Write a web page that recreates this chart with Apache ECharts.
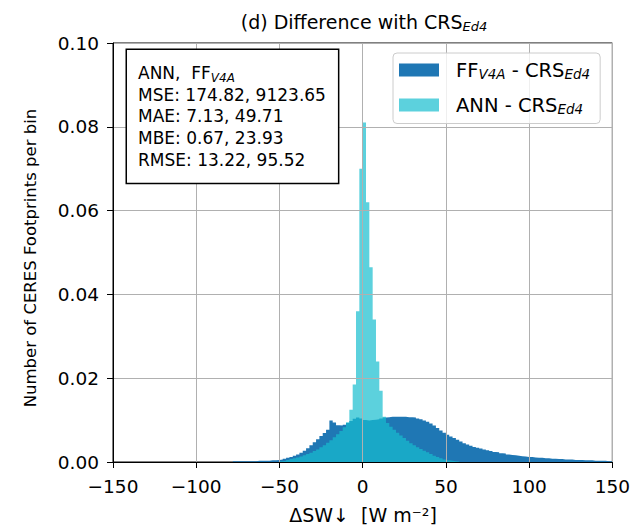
<!DOCTYPE html>
<html>
<head>
<meta charset="utf-8">
<script src="https://cdn.jsdelivr.net/npm/echarts@6/dist/echarts.min.js"></script>
<style>
html,body{margin:0;padding:0;background:#fff;}
#chart{width:633px;height:528px;}
</style>
</head>
<body>
<div id="chart"></div>
<script>
// ---- Data (histogram bins, width 2 W m^-2, values given per bin left edge) ----
const binWidth = 2;
const xTicks = [-150, -100, -50, 0, 50, 100, 150];
const yTicks = [0, 0.02, 0.04, 0.06, 0.08, 0.10];

// FF_V4A - CRS_Ed4 : first bin starts at -78
const ffStart = -78;
const ffValues = [
  0.0002, 0.0002, 0.0002, 0.0002, 0.0002, 0.0002, 0.0002, 0.0003, 0.0003, 0.0003, // -78 .. -60
  0.0003, 0.0004, 0.0004, 0.0005, 0.0006, 0.0008, 0.0010, 0.0012, 0.0015, 0.0018, // -58 .. -40
  0.0022, 0.0027, 0.0033, 0.0040, 0.0047, 0.0054, 0.0062, 0.0069, 0.0077, 0.0099, // -38 .. -20
  0.0094, 0.0088, 0.0087, 0.0089, 0.0093, 0.0098, 0.0103, 0.0106, 0.0104,         // -18 .. -2
  0.0100, 0.0099, 0.0100, 0.0101, 0.0102, 0.0104, 0.0106, 0.0107, 0.0108, 0.0108, // 0 .. 18
  0.0108, 0.0108, 0.0108, 0.0107, 0.0107, 0.0106, 0.0104, 0.0102, 0.0099, 0.0096, // 20 .. 38
  0.0092, 0.0087, 0.0081, 0.0075, 0.0070, 0.0065, 0.0061, 0.0057, 0.0053, 0.0049, // 40 .. 58
  0.0045, 0.0042, 0.0039, 0.0036, 0.0034, 0.0032, 0.0030, 0.0028, 0.0026, 0.0024, // 60 .. 78
  0.0023, 0.0021, 0.0020, 0.0018, 0.0017, 0.0016, 0.0015, 0.0014, 0.0013, 0.0012, // 80 .. 98
  0.0012, 0.0011, 0.0010, 0.0010, 0.0009, 0.0009, 0.0008, 0.0008, 0.0007, 0.0007, // 100 .. 118
  0.0006, 0.0006, 0.0006, 0.0005, 0.0005, 0.0005, 0.0004, 0.0004, 0.0004, 0.0003, // 120 .. 138
  0.0003, 0.0003, 0.0003, 0.0002, 0.0002                                          // 140 .. 148
];

// ANN - CRS_Ed4 : first bin starts at -50
const annStart = -50;
const annValues = [
  0.0002, 0.0003, 0.0005, 0.0007, 0.0009, 0.0011, 0.0013, 0.0016, 0.0019, 0.0022, // -50 .. -32
  0.0026, 0.0030, 0.0035, 0.0040, 0.0046, 0.0052, 0.0059, 0.0066, 0.0074, 0.0083, // -30 .. -12
  0.0095, 0.0125, 0.0185, 0.0360, 0.0700,                                         // -10 .. -2
  0.0810, 0.0620, 0.0465, 0.0340, 0.0240, 0.0170, 0.0108, 0.0093, 0.0084, 0.0077, // 0 .. 18
  0.0070, 0.0063, 0.0057, 0.0051, 0.0045, 0.0040, 0.0035, 0.0031, 0.0027, 0.0023, // 20 .. 38
  0.0019, 0.0015, 0.0012, 0.0009, 0.0006, 0.0004, 0.0003, 0.0002, 0.0001          // 40 .. 56
];

const statsLines = [
  ['ANN,  FF', 'V4A'],
  ['MSE: 174.82, 9123.65'],
  ['MAE: 7.13, 49.71'],
  ['MBE: 0.67, 23.93'],
  ['RMSE: 13.22, 95.52']
];

// ---- Build step (histogram) series data ----
function toSteps(start, vals) {
  const pts = vals.map((v, i) => [start + i * binWidth, v]);
  pts.push([start + vals.length * binWidth, vals[vals.length - 1]]);
  return pts;
}

const FONT = 'DejaVu Sans';
const FS = 17;      // stats box text
const TFS = 18.5;   // tick labels
const LFS = 19.5;   // legend
const XFS = 19;     // x axis title
const YFS = 16.5;   // y axis title

const chart = echarts.init(document.getElementById('chart'), null, { renderer: 'svg' });

const statsText = statsLines.map(l => '{n|' + l[0] + '}' + (l[1] ? '{s|' + l[1] + '}' : '')).join('\n');

const option = {
  animation: false,
  backgroundColor: '#fff',
  textStyle: { fontFamily: FONT },
  grid: { left: 113, right: 20, top: 43, bottom: 66, show: true, borderColor: '#000', borderWidth: 1, backgroundColor: 'transparent' },
  xAxis: {
    type: 'value', min: -150, max: 150, interval: 50, z: 10,
    axisLine: { show: true, onZero: false, lineStyle: { color: '#000', width: 1 } },
    axisTick: { show: true, inside: false, length: 6, lineStyle: { color: '#000' } },
    axisLabel: { color: '#000', fontSize: TFS, fontFamily: FONT, margin: 15,
      formatter: v => (v < 0 ? '\u2212' + Math.abs(v) : String(v)) },
    splitLine: { show: true, lineStyle: { color: '#b0b0b0', width: 1 } }
  },
  yAxis: {
    type: 'value', min: 0, max: 0.10, interval: 0.02, z: 10,
    axisLine: { show: true, onZero: false, lineStyle: { color: '#000', width: 1 } },
    axisTick: { show: true, inside: false, length: 6, lineStyle: { color: '#000' } },
    axisLabel: { color: '#000', fontSize: TFS, fontFamily: FONT, margin: 14,
      formatter: v => v.toFixed(2) },
    splitLine: { show: true, lineStyle: { color: '#b0b0b0', width: 1 } }
  },
  legend: {
    orient: 'vertical', left: 393, top: 53, z: 20,
    backgroundColor: 'rgba(255,255,255,0.8)', borderColor: '#cccccc', borderWidth: 1, borderRadius: 4,
    padding: [7, 10, 8, 6], itemWidth: 40, itemHeight: 13, itemGap: 14.5, icon: 'rect',
    data: [
      { name: 'FF', itemStyle: { color: '#1f77b4' } },
      { name: 'ANN', itemStyle: { color: 'rgba(23,190,207,0.7)' } }
    ],
    formatter: name => name === 'FF'
      ? '{n|FF}{s|V4A}{n| - CRS}{s|Ed4}'
      : '{n|ANN - CRS}{s|Ed4}',
    textStyle: {
      padding: [0, 0, 0, 12],
      rich: {
        n: { fontFamily: FONT, fontSize: LFS, lineHeight: 21, color: '#000' },
        s: { fontFamily: FONT, fontSize: 13.5, lineHeight: 13, fontStyle: 'italic', verticalAlign: 'bottom', color: '#000' }
      }
    }
  },
  series: [
    {
      name: 'FF', type: 'line', step: 'end', data: toSteps(ffStart, ffValues),
      symbol: 'none', showSymbol: false, z: 2,
      lineStyle: { width: 0, color: '#1f77b4' },
      itemStyle: { color: '#1f77b4' },
      areaStyle: { color: '#1f77b4', opacity: 1 }
    },
    {
      name: 'ANN', type: 'line', step: 'end', data: toSteps(annStart, annValues),
      symbol: 'none', showSymbol: false, z: 3,
      lineStyle: { width: 0, color: 'rgba(23,190,207,0.7)' },
      itemStyle: { color: 'rgba(23,190,207,0.7)' },
      areaStyle: { color: 'rgba(23,190,207,0.7)', opacity: 1 }
    }
  ],
  graphic: [
    {
      type: 'text', x: 364, y: 22, z: 100,
      style: {
        text: '{n|(d) Difference with CRS}{s|Ed4}',
        align: 'center', verticalAlign: 'middle', textAlign: 'center', textVerticalAlign: 'middle',
        rich: { n: { fontFamily: FONT, fontSize: 19, lineHeight: 22, fill: '#000' }, s: { fontFamily: FONT, fontSize: 13, lineHeight: 13, fontStyle: 'italic', verticalAlign: 'bottom', fill: '#000' } }
      }
    },
    {
      type: 'text', x: 30, y: 258, rotation: Math.PI / 2, z: 100,
      style: {
        text: 'Number of CERES Footprints per bin',
        font: YFS + 'px ' + FONT, fill: '#000',
        align: 'center', verticalAlign: 'middle', textAlign: 'center', textVerticalAlign: 'middle'
      }
    },
    {
      type: 'text', x: 363, y: 515, z: 100,
      style: {
        text: '\u0394SW\u2193  [W m\u207B\u00B2]',
        font: XFS + 'px ' + FONT, fill: '#000',
        align: 'center', verticalAlign: 'middle', textAlign: 'center', textVerticalAlign: 'middle'
      }
    },
    {
      type: 'text', x: 127, y: 50, z: 100,
      style: {
        text: statsText,
        backgroundColor: '#fff', borderColor: '#000', borderWidth: 1.5,
        padding: [12, 12, 12, 11],
        rich: {
          n: { fontFamily: FONT, fontSize: FS, lineHeight: 21.75, fill: '#000' },
          s: { fontFamily: FONT, fontSize: 12, lineHeight: 12, fontStyle: 'italic', verticalAlign: 'bottom', fill: '#000' }
        }
      }
    }
  ]
};
chart.setOption(option);
</script>
</body>
</html>
